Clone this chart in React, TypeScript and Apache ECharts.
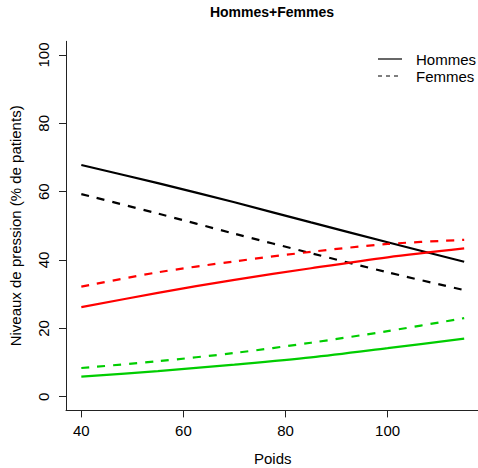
import React, { useEffect, useRef } from "react";
import * as echarts from "echarts";

// Poids (kg) at which the predicted curves are sampled
const poids = [40, 55, 70, 85, 100, 115];

// Predicted share of patients (%) per pressure level, men (solid) and women (dashed)
const noirHommes = [67.8, 62.5, 56.9, 51.0, 45.2, 39.5];
const noirFemmes = [59.3, 53.6, 47.7, 42.0, 36.4, 31.2];
const rougeHommes = [26.2, 30.4, 34.2, 37.6, 40.8, 43.4];
const rougeFemmes = [32.2, 36.4, 39.6, 42.4, 44.7, 45.9];
const vertHommes = [5.9, 7.5, 9.4, 11.5, 14.2, 17.0];
const vertFemmes = [8.4, 10.4, 12.8, 15.8, 19.2, 23.0];

const xTicks = [40, 60, 80, 100];
const yTicks = [0, 20, 40, 60, 80, 100];
const legendLabels = ["Hommes", "Femmes"];

const FONT = "'Liberation Sans', Arial, Helvetica, sans-serif";

const pairs = (ys: number[]) => poids.map((x, i) => [x, ys[i]]);

const curve = (name: string, ys: number[], color: string, dashed: boolean) => ({
  name,
  type: "line",
  data: pairs(ys),
  smooth: 0.3,
  showSymbol: false,
  symbol: "none",
  silent: true,
  lineStyle: {
    color,
    width: 2.2,
    type: dashed ? [8, 8] : "solid",
  },
});

export default function App() {
  const ref = useRef<HTMLDivElement>(null);

  useEffect(() => {
    if (!ref.current) return;
    const chart = echarts.init(ref.current, null, { renderer: "svg" });
    const axisColor = "#222";
    chart.setOption({
      animation: false,
      backgroundColor: "#ffffff",
      textStyle: { fontFamily: FONT },
      title: {
        text: "Hommes+Femmes",
        left: 272,
        top: 5,
        padding: 0,
        textAlign: "center",
        textStyle: { fontFamily: FONT, fontSize: 14, fontWeight: "bold", color: "#000" },
      },
      grid: {
        left: 66,
        top: 41.3,
        width: 413.5,
        height: 369.1,
        containLabel: false,
        outerBoundsMode: "none",
      },
      xAxis: {
        type: "value",
        min: 37,
        max: 118,
        name: "Poids",
        nameLocation: "middle",
        nameGap: 41,
        nameTextStyle: { fontFamily: FONT, fontSize: 15, color: "#000" },
        axisLine: { show: true, onZero: false, lineStyle: { color: axisColor, width: 1 } },
        axisTick: { show: true, length: 7, customValues: xTicks, lineStyle: { color: axisColor } },
        axisLabel: {
          customValues: xTicks,
          margin: 13,
          fontFamily: FONT,
          fontSize: 15,
          color: "#000",
        },
        splitLine: { show: false },
      },
      yAxis: {
        type: "value",
        min: -4,
        max: 104,
        name: "Niveaux de pression (% de patients)",
        nameLocation: "middle",
        nameRotate: 90,
        nameGap: 43,
        nameTextStyle: { fontFamily: FONT, fontSize: 15, color: "#000" },
        axisLine: { show: true, onZero: false, lineStyle: { color: axisColor, width: 1 } },
        axisTick: { show: true, length: 7, customValues: yTicks, lineStyle: { color: axisColor } },
        axisLabel: {
          customValues: yTicks,
          rotate: 90,
          margin: 15,
          fontFamily: FONT,
          fontSize: 15,
          color: "#000",
        },
        splitLine: { show: false },
      },
      series: [
        curve("noir Hommes", noirHommes, "#000000", false),
        curve("noir Femmes", noirFemmes, "#000000", true),
        curve("rouge Hommes", rougeHommes, "#ff0000", false),
        curve("rouge Femmes", rougeFemmes, "#ff0000", true),
        curve("vert Hommes", vertHommes, "#00cd00", false),
        curve("vert Femmes", vertFemmes, "#00cd00", true),
      ],
      graphic: [
        {
          type: "line",
          shape: { x1: 378, y1: 59, x2: 402, y2: 59 },
          style: { stroke: "#000", lineWidth: 1.2 },
        },
        {
          type: "line",
          shape: { x1: 378, y1: 76, x2: 402, y2: 76 },
          style: { stroke: "#000", lineWidth: 1.2, lineDash: [4, 4] },
        },
        {
          type: "text",
          x: 416,
          y: 59,
          style: {
            text: legendLabels[0],
            fontFamily: FONT,
            fontSize: 15,
            fill: "#000",
            textVerticalAlign: "middle",
            verticalAlign: "middle",
          },
        },
        {
          type: "text",
          x: 416,
          y: 76,
          style: {
            text: legendLabels[1],
            fontFamily: FONT,
            fontSize: 15,
            fill: "#000",
            textVerticalAlign: "middle",
            verticalAlign: "middle",
          },
        },
      ],
    });
    return () => chart.dispose();
  }, []);

  return (
    <div
      ref={ref}
      style={{ position: "fixed", left: 0, top: 0, width: 478, height: 468, background: "#fff" }}
    />
  );
}
